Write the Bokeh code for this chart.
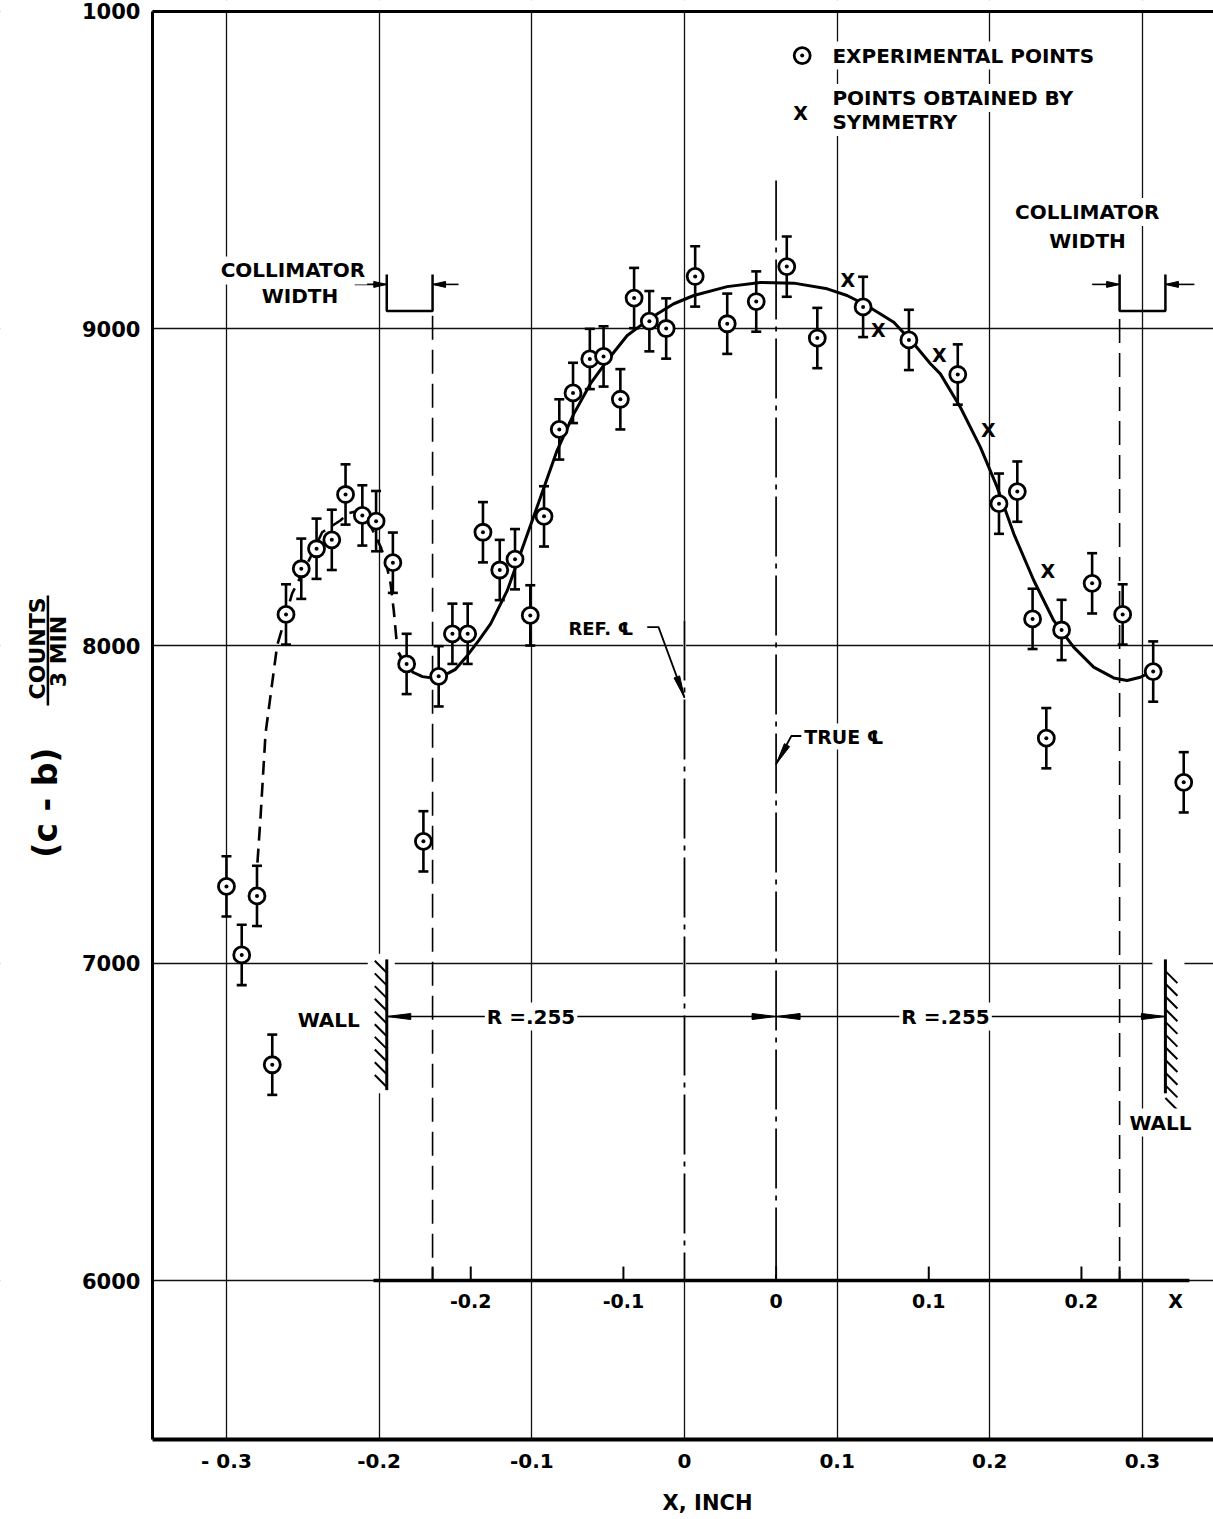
import numpy as np
from bokeh.plotting import figure
from bokeh.models import Range1d, FixedTicker, LinearAxis, Label, Arrow, ColumnDataSource
from bokeh.core.properties import value
from bokeh.embed import file_html
from bokeh.resources import INLINE

# ---------------- data ----------------
exp_x = [-0.300, -0.290, -0.280, -0.270, -0.261, -0.251, -0.241, -0.231, -0.222, -0.211,
         -0.202, -0.191, -0.182, -0.171, -0.161, -0.152, -0.142, -0.132, -0.121, -0.111,
         -0.101, -0.092, -0.082, -0.073, -0.062, -0.053, -0.042, -0.033, -0.023, -0.012,
         0.007, 0.028, 0.047, 0.067, 0.087, 0.117, 0.147, 0.179, 0.206, 0.218,
         0.228, 0.237, 0.247, 0.267, 0.287, 0.307, 0.327]
exp_y = [7242, 7026, 7212, 6680, 8099, 8243, 8306, 8334, 8477, 8411,
         8393, 8262, 7943, 7384, 7904, 8038, 8038, 8358, 8239, 8273,
         8096, 8408, 8682, 8797, 8904, 8912, 8777, 9096, 9023, 9000,
         9164, 9015, 9085, 9195, 8970, 9068, 8964, 8855, 8448, 8486,
         8085, 7709, 8050, 8197, 8099, 7919, 7570]
ERR = 95

sym_x = [0.107, 0.127, 0.167, 0.199, 0.238]
sym_y = [9153, 8996, 8915, 8679, 8235]

dash_x = [-0.2797, -0.2777, -0.2744, -0.2701, -0.2668, -0.2626, -0.2570, -0.2450, -0.2373,
          -0.2254, -0.2201, -0.2136, -0.2057, -0.1991, -0.1958, -0.1925, -0.1904, -0.1882]
dash_y = [7317, 7459, 7724, 7881, 8001, 8070, 8165, 8279, 8358,
          8395, 8418, 8426, 8379, 8313, 8269, 8196, 8111, 7996]

fit_x = [-0.1873, -0.1827, -0.1775, -0.1716, -0.1650, -0.1578, -0.1500, -0.1423, -0.1347, -0.1270,
         -0.1161, -0.1052, -0.0943, -0.0834, -0.0725, -0.0616, -0.0506, -0.0375, -0.0288, -0.0179,
         -0.0070, 0.0061, 0.0280, 0.0498, 0.0716, 0.0935, 0.1065, 0.1196, 0.1371, 0.1502,
         0.1611, 0.1676, 0.1807, 0.1938, 0.2048, 0.2157, 0.2288, 0.2418, 0.2549, 0.2680,
         0.2811, 0.2899, 0.2986, 0.3073]
fit_y = [7979, 7938, 7916, 7903, 7899, 7906, 7926, 7969, 8017, 8069,
         8174, 8321, 8468, 8616, 8731, 8826, 8899, 8978, 9009, 9046,
         9078, 9104, 9132, 9145, 9143, 9125, 9104, 9072, 9020, 8952,
         8889, 8857, 8752, 8626, 8500, 8353, 8206, 8080, 7996, 7933,
         7899, 7891, 7901, 7922]

x_ticks = [-0.3, -0.2, -0.1, 0, 0.1, 0.2, 0.3]
x_tick_labels = ["- 0.3", "-0.2", "-0.1", "0", "0.1", "0.2", "0.3"]
y_ticks = [6000, 7000, 8000, 9000, 10000]
y_tick_labels = ["6000", "7000", "8000", "9000", "1000"]
inner_offsets = [-0.2, -0.1, 0, 0.1, 0.2]
inner_labels = ["-0.2", "-0.1", "0", "0.1", "0.2"]

REF_CL = 0.0
TRUE_CL = 0.06
R = 0.255
COLL_EDGE = 0.225

# ---------------- layout ----------------
FONT = "DejaVu Sans"
W, H = 1213, 1519
XS, XE = -0.4480, 0.3465          # whole canvas is the frame
YS, YE = 5247.0, 10033.6
AX_X0, AX_X1 = -0.3485, XE        # extent of the plotted area
AX_Y0, AX_Y1 = 5500, 10000
PXU = W / (XE - XS)
PYU = H / (YE - YS)

p = figure(width=W, height=H, x_range=Range1d(XS, XE), y_range=Range1d(YS, YE),
           output_backend="svg", toolbar_location=None, min_border=0,
           outline_line_color=None, background_fill_color="white", border_fill_color="white")

for ax, ticks, labels, lw, fs, so, loc, bnds in (
        (p.xaxis[0], x_ticks, x_tick_labels, 4, "20px", 4, AX_Y0, (AX_X0, AX_X1)),
        (p.yaxis[0], y_ticks, y_tick_labels, 3, "21px", 6, AX_X0, (AX_Y0, AX_Y1))):
    ax.ticker = FixedTicker(ticks=ticks)
    ax.major_label_overrides = {t: s for t, s in zip(ticks, labels)}
    ax.fixed_location = loc
    ax.bounds = bnds
    ax.axis_line_width = lw
    ax.axis_line_color = "black"
    ax.major_tick_line_color = None
    ax.minor_tick_line_color = None
    ax.major_label_text_font = FONT
    ax.major_label_text_font_style = "bold"
    ax.major_label_text_font_size = fs
    ax.major_label_text_color = "black"
    ax.major_label_standoff = so

top = LinearAxis(ticker=FixedTicker(ticks=[]), axis_line_width=3, axis_line_color="black",
                 major_tick_line_color=None, minor_tick_line_color=None,
                 major_label_text_font_size="0px", major_label_standoff=0,
                 fixed_location=AX_Y1, bounds=(AX_X0, AX_X1))
p.add_layout(top, "above")

p.xgrid.ticker = FixedTicker(ticks=x_ticks)
p.ygrid.ticker = FixedTicker(ticks=y_ticks)
for g in (p.xgrid[0], p.ygrid[0]):
    g.grid_line_color = "#111111"
    g.grid_line_width = 1.3
    g.grid_line_alpha = 1.0

# keep the grid inside the axes box
p.quad(left=[XS - 0.05, AX_X0, AX_X0], right=[AX_X0, XE + 0.05, XE + 0.05],
       bottom=[YS - 200, YS - 200, AX_Y1], top=[YE + 200, AX_Y0, YE + 200],
       fill_color="white", line_color=None)

def dxp(px):
    return px / PXU

def dyp(px):
    return px / PYU

def txt(x, y, s, size=20, align="center", baseline="middle", bg=True):
    src = ColumnDataSource(dict(x=[x], y=[y], text=[s]))
    kw = {}
    if bg:
        kw = dict(background_fill_color="white", padding=2)
    p.text(x="x", y="y", text="text", source=src, text_font=value(FONT),
           text_font_style="bold", text_font_size=f"{size}px", text_align=align,
           text_baseline=baseline, text_color="black", **kw)

heads_x, heads_y = [], []
def head(xt, yt, ux, uy, L=20, Wd=3.0):
    n = np.hypot(ux, uy)
    ux, uy = ux / n, uy / n
    bx, by = -ux * L, -uy * L
    qx, qy = -uy * Wd, ux * Wd
    heads_x.append([xt, xt + dxp(bx + qx), xt + dxp(bx - qx)])
    heads_y.append([yt, yt + dyp(by + qy), yt + dyp(by - qy)])

WALL_L, WALL_R = TRUE_CL - R, TRUE_CL + R
DASH_L, DASH_R = TRUE_CL - COLL_EDGE, TRUE_CL + COLL_EDGE

# white gaps in the grid where the walls sit
p.quad(left=[WALL_L - dxp(19), WALL_R - dxp(13)], right=[WALL_L + dxp(8), WALL_R + dxp(19)],
       bottom=[6590, 6560], top=[7030, 7030], fill_color="white", line_color=None)
# reference centre line (dash-dot) over the zero grid line
p.segment(x0=[REF_CL], y0=[8080], x1=[REF_CL], y1=[6000], line_color="white", line_width=3)
p.segment(x0=[REF_CL], y0=[8080], x1=[REF_CL], y1=[6000], line_color="black", line_width=1.8,
          line_dash="60 7 5 7")

# collimator edge dashed lines
p.segment(x0=[DASH_L, DASH_R], y0=[9040, 9030], x1=[DASH_L, DASH_R], y1=[6000, 6000],
          line_color="black", line_width=1.6, line_dash="24 10")
# true centre line
p.segment(x0=[TRUE_CL], y0=[9466], x1=[TRUE_CL], y1=[6000], line_color="black",
          line_width=1.7, line_dash="60 7 5 7")

# inner scale (x measured from the true centre line) on the 6000 line
p.segment(x0=[-0.2037], y0=[6000], x1=[0.3307], y1=[6000], line_color="black", line_width=3.5)
inner_x = [TRUE_CL + o for o in inner_offsets]
tick_x = inner_x + [DASH_L, DASH_R]
p.segment(x0=tick_x, y0=[6000] * len(tick_x), x1=tick_x, y1=[6000 + dyp(14)] * len(tick_x),
          line_color="black", line_width=2)
for xv, lab in zip(inner_x, inner_labels):
    txt(xv, 5937, lab, size=19, bg=False)
txt(0.3216, 5937, "X", size=19, bg=False)

# walls with hatching
hx, hy = dxp(12), dyp(12)
p.segment(x0=[WALL_L, WALL_R], y0=[6600, 6590], x1=[WALL_L, WALL_R], y1=[7012, 7012],
          line_color="black", line_width=3)
yb = np.arange(6610, 6990, 40.0)
p.segment(x0=[WALL_L - hx] * len(yb), y0=list(yb + hy), x1=[WALL_L] * len(yb), y1=list(yb),
          line_color="black", line_width=2)
yr = np.arange(6975, 6560, -40.0)
p.segment(x0=[WALL_R] * len(yr), y0=list(yr), x1=[WALL_R + hx] * len(yr), y1=list(yr - hy),
          line_color="black", line_width=2)

# R = .255 dimension lines
YR = 6832
p.segment(x0=[WALL_L, TRUE_CL], y0=[YR, YR], x1=[TRUE_CL, WALL_R], y1=[YR, YR],
          line_color="black", line_width=1.6)
head(WALL_L, YR, -1, 0, L=24, Wd=3)
head(TRUE_CL, YR, 1, 0, L=24, Wd=3)
head(TRUE_CL, YR, -1, 0, L=24, Wd=3)
head(WALL_R, YR, 1, 0, L=24, Wd=3)
txt(-0.1005, YR, "R =.255", size=20)
txt(0.1710, YR, "R =.255", size=20)
txt(-0.2330, 6820, "WALL", size=20)
txt(0.3118, 6498, "WALL", size=20)

# collimator width brackets
YB_TOP, YB_BOT, YA = 9170, 9055, 9139
p.multi_line(xs=[[WALL_L, WALL_L, DASH_L, DASH_L], [DASH_R, DASH_R, WALL_R, WALL_R]],
             ys=[[YB_TOP, YB_BOT, YB_BOT, YB_TOP], [YB_TOP, YB_BOT, YB_BOT, YB_TOP]],
             line_color="black", line_width=2.5)
p.segment(x0=[WALL_L - 0.021, DASH_L, DASH_R - 0.018, WALL_R],
          y0=[YA] * 4,
          x1=[WALL_L, DASH_L + 0.017, DASH_R, WALL_R + 0.019],
          y1=[YA] * 4, line_color="black", line_width=1.6)
head(WALL_L, YA, 1, 0, L=13, Wd=3)
head(DASH_L, YA, -1, 0, L=13, Wd=3)
head(DASH_R, YA, 1, 0, L=13, Wd=3)
head(WALL_R, YA, -1, 0, L=13, Wd=3)
txt(-0.2565, 9183, "COLLIMATOR", size=20)
txt(-0.2519, 9104, "WIDTH", size=20)
txt(0.2638, 9367, "COLLIMATOR", size=20)
txt(0.2640, 9276, "WIDTH", size=20)

# centre-line leaders
p.line(x=[-0.0244, -0.0170, REF_CL], y=[8059, 8059, 7837], line_color="black", line_width=1.8)
head(REF_CL, 7837, 26, -70, L=22, Wd=3)
txt(-0.0773, 8055, "REF. \u2104", size=18, align="left")
p.line(x=[0.0765, 0.0700, TRUE_CL], y=[7716, 7716, 7627], line_color="black", line_width=1.8)
head(TRUE_CL, 7627, -16, -28, L=22, Wd=3)
txt(0.0771, 7714, "TRUE \u2104", size=19, align="left")

# fitted curve
p.line(x=dash_x, y=dash_y, line_color="black", line_width=2.6, line_dash="14 8")
p.line(x=fit_x, y=fit_y, line_color="black", line_width=3)

p.patches(xs=heads_x, ys=heads_y, fill_color="black", line_color="black", line_width=1)

# experimental points with error bars
src = ColumnDataSource(dict(x=exp_x, y=exp_y,
                            lo=[v - ERR for v in exp_y], hi=[v + ERR for v in exp_y]))
p.segment(x0="x", y0="lo", x1="x", y1="hi", source=src, line_color="black", line_width=2.6)
p.scatter(x="x", y="lo", source=src, marker="dash", size=10, line_color="black", line_width=2.6)
p.scatter(x="x", y="hi", source=src, marker="dash", size=10, line_color="black", line_width=2.6)
p.scatter(x="x", y="y", source=src, marker="circle", size=16, fill_color="white",
          line_color="black", line_width=2.8)
p.scatter(x="x", y="y", source=src, marker="circle", size=4, fill_color="black", line_color=None)

# points obtained by symmetry
ssrc = ColumnDataSource(dict(x=sym_x, y=sym_y, t=["X"] * len(sym_x)))
p.text(x="x", y="y", text="t", source=ssrc, text_font=value(FONT), text_font_style="bold",
       text_font_size="19px", text_align="center", text_baseline="middle", text_color="black")

# legend (drawn as in the original lettering)
p.scatter(x=[0.0771], y=[9860], marker="circle", size=16, fill_color="white",
          line_color="black", line_width=2.8)
p.scatter(x=[0.0771], y=[9860], marker="circle", size=4, fill_color="black", line_color=None)
txt(0.0760, 9678, "X", size=19, bg=False)
txt(0.0956, 9860, "EXPERIMENTAL  POINTS", size=20, align="left")
txt(0.0956, 9726, "POINTS  OBTAINED  BY", size=20, align="left")
txt(0.0956, 9651, "SYMMETRY", size=20, align="left")

# axis titles
lab_kw = dict(text_font=FONT, text_font_style="bold", text_color="black",
              text_align="center", text_baseline="middle")
p.add_layout(Label(x=0.0151, y=5298, text="X, INCH", text_font_size="21px", **lab_kw))
p.add_layout(Label(x=AX_X0 - dxp(107), y=7506, text="(c - b)", angle=np.pi / 2,
                   text_font_size="33px", **lab_kw))
p.add_layout(Label(x=AX_X0 - dxp(114.5), y=7992, text="COUNTS", angle=np.pi / 2,
                   text_font_size="22px", **lab_kw))
p.add_layout(Label(x=AX_X0 - dxp(94), y=7982, text="3 MIN", angle=np.pi / 2,
                   text_font_size="22px", **lab_kw))
p.add_layout(Arrow(end=None, x_start=AX_X0 - dxp(104.5), y_start=7812,
                   x_end=AX_X0 - dxp(104.5), y_end=8159, line_width=2.5, line_color="black"))

open("out.html", "w").write(file_html(p, INLINE))
